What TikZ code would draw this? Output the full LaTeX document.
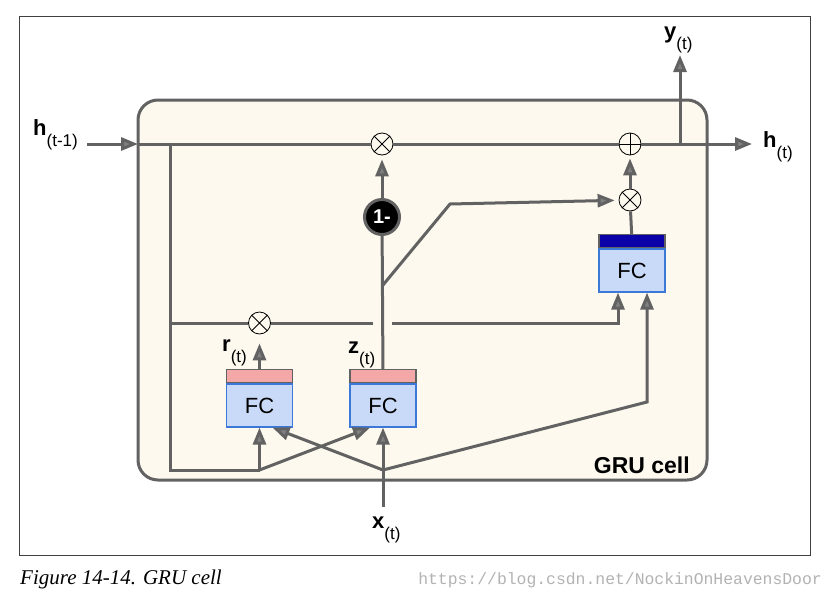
\documentclass[tikz,border=0pt]{standalone}
\usepackage{fontspec}
\setmainfont{Liberation Sans}
\newfontfamily\capfont{Liberation Serif}
\newfontfamily\urlfont{Liberation Mono}
\usetikzlibrary{arrows.meta,calc}
\definecolor{linegray}{HTML}{626262}
\definecolor{cellfill}{HTML}{FDF9EE}
\definecolor{fcblue}{HTML}{C9DAF8}
\definecolor{fcedge}{HTML}{3C78D8}
\definecolor{fcpink}{HTML}{F4A7A7}
\definecolor{fcdark}{HTML}{0B00A8}
\newcommand{\vlab}[2]{{\fontsize{22}{22}\selectfont\bfseries #1}{\fontsize{17}{17}\selectfont\raisebox{-11pt}{#2}}}
\tikzset{
wire/.style={draw=linegray,line width=3pt},
arr/.style={wire,-{Triangle[length=17pt,width=13pt,fill=black!50]}},
opnode/.style={circle,draw=black,line width=0.8pt,fill=cellfill,minimum size=22pt,inner sep=0pt},
timesop/.style={opnode,path picture={\draw[line width=0.8pt] (path picture bounding box.north west)--(path picture bounding box.south east) (path picture bounding box.south west)--(path picture bounding box.north east);}},
plusop/.style={opnode,path picture={\draw[line width=0.8pt] (path picture bounding box.north)--(path picture bounding box.south) (path picture bounding box.west)--(path picture bounding box.east);}},
fcbody/.style={draw=fcedge,fill=fcblue,line width=1.2pt,minimum width=66pt,minimum height=43pt,inner sep=0pt,font=\fontsize{22}{22}\selectfont},
fchead/.style={draw=linegray,line width=1.2pt,minimum width=66pt,minimum height=13pt,inner sep=0pt,anchor=south},
vname/.style={anchor=base west,inner sep=0pt}
}
\begin{document}
\begin{tikzpicture}[x=1pt,y=-1pt]
\useasboundingbox (0,0) rectangle (835,595);
\draw[line width=1pt,draw=black!75] (19,16) rectangle (810,555);
\node[draw=linegray,fill=cellfill,line width=3pt,rounded corners=20pt,minimum width=569pt,minimum height=380pt] (cell) at (422.5,290) {};
\node[anchor=base east,inner sep=0pt,font=\fontsize{23}{23}\selectfont\bfseries] (celllab) at (690,473) {GRU cell};
\node[vname] (hprev) at (33,135) {\vlab{h}{(t-1)}};
\node[vname] (hout) at (763,147) {\vlab{h}{(t)}};
\node[vname] (yout) at (664,38) {\vlab{y}{(t)}};
\node[vname] (xin) at (372,528) {\vlab{x}{(t)}};
\node[vname] (rlab) at (222,351) {\vlab{r}{(t)}};
\node[vname] (zlab) at (348,353) {\vlab{z}{(t)}};
\node[fcbody] (fcr) at (259.5,405.5) {FC};
\node[fcbody] (fcz) at (383,405.5) {FC};
\node[fcbody] (fch) at (632,270.5) {FC};
\node[fchead,fill=fcpink] (fcrtop) at (fcr.north) {};
\node[fchead,fill=fcpink] (fcztop) at (fcz.north) {};
\node[fchead,fill=fcdark] (fchtop) at (fch.north) {};
\node[timesop] (mulh) at (382,144) {};
\node[plusop] (plus) at (630,144) {};
\node[timesop] (mulz) at (630,200) {};
\node[timesop] (mulr) at (259.5,323) {};
\node[circle,fill=black,draw=linegray,line width=3pt,minimum size=35pt,inner sep=0pt,text=white,font=\fontsize{20}{20}\selectfont\bfseries] (onem) at (382,217) {1-};
\coordinate (hstart) at (87,144);
\coordinate (hin) at (138,144);
\coordinate (htip) at (752,144);
\coordinate (ysplit) at (680,144);
\coordinate (ytip) at (680,55);
\coordinate (hl) at (170,144);
\coordinate (hbl) at (170,470);
\coordinate (rj) at (259.5,470);
\coordinate (xj) at (383,470);
\coordinate (xs) at (383,507);
\coordinate (fk) at (647,402);
\coordinate (rl) at (170,323);
\coordinate (gapl) at (373,323);
\coordinate (gapr) at (392,323);
\coordinate (rk) at (618,323);
\coordinate (zb) at (383,285);
\coordinate (zk) at (450,204);
\draw[arr] (hstart) -- (hin);
\draw[wire] (hin) -- (mulh) (mulh) -- (plus);
\draw[arr] (plus) -- (htip);
\draw[arr] (ysplit) -- (ytip);
\draw[wire] (hl) -- (hbl) -- (rj);
\draw[arr] (rj) -- (fcr.south);
\draw[arr] (rj) -- ([xshift=-13pt]fcz.south);
\draw[wire] (xs) -- (xj);
\draw[arr] (xj) -- (fcz.south);
\draw[arr] (xj) -- ([xshift=13pt]fcr.south);
\draw[arr] (xj) -- (fk) -- ([xshift=15pt]fch.south);
\draw[arr,shorten >=9pt] (fcrtop) -- (mulr);
\draw[wire] (rl) -- (mulr) (mulr) -- (gapl);
\draw[arr] (gapr) -- (rk) -- ([xshift=-14pt]fch.south);
\draw[wire] (fcztop) -- (onem);
\draw[arr,shorten >=4pt] (onem) -- (mulh);
\draw[arr,shorten >=4pt] (zb) -- (zk) -- (mulz);
\draw[wire] (fchtop) -- (mulz);
\draw[arr,shorten >=3pt] (mulz) -- (plus);
\node[anchor=base west,inner sep=0pt,font=\capfont\itshape\fontsize{21}{21}\selectfont] (caption) at (20,584) {Figure 14-14. GRU cell};
\node[anchor=base east,inner sep=0pt,text=black!30,font=\urlfont\fontsize{16.4}{16.4}\selectfont] (wmark) at (822,584) {https://blog.csdn.net/NockinOnHeavensDoor};
\end{tikzpicture}
\end{document}
